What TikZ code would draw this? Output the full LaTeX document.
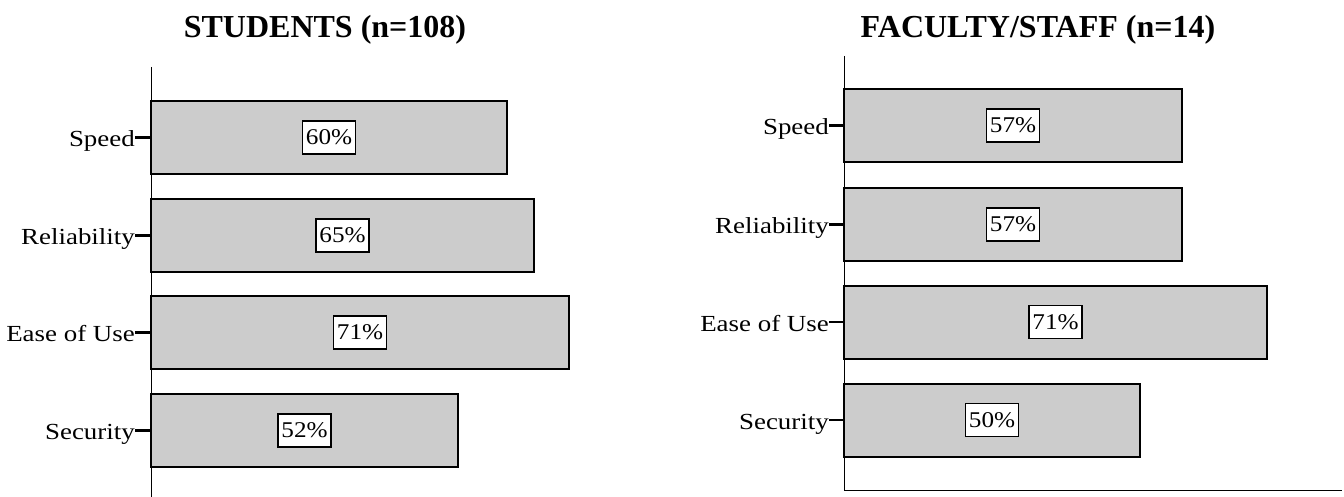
\documentclass[tikz,border=0pt]{standalone}
\usepackage{fontspec}
\setmainfont{Liberation Serif}
\newfontfamily\lblfont[FakeStretch=1.17]{Liberation Serif}
\newfontfamily\pctfont[FakeStretch=1.12]{Liberation Serif}
\definecolor{bargray}{HTML}{CCCCCC}
\tikzset{
  bar/.style={draw=black, line width=2pt, fill=bargray, inner sep=0pt, outer sep=0pt, minimum height=73pt, anchor=west},
  axisline/.style={line width=1pt},
  tickmark/.style={line width=2.5pt},
  pct/.style={draw=black, line width=1.5pt, fill=white, font=\pctfont\fontsize{22.5}{24}\selectfont, inner xsep=3.5pt, inner ysep=0pt, minimum height=33pt},
  cat/.style={anchor=base east, inner sep=0pt, font=\lblfont\fontsize{23}{25}\selectfont},
  charttitle/.style={anchor=base, inner sep=0pt, font=\bfseries\fontsize{32}{36}\selectfont}
}
\begin{document}
\begin{tikzpicture}[x=1pt,y=-1pt]
\useasboundingbox (0,0) rectangle (1344,497);
% titles
\node[charttitle] (tL) at (325,38) {STUDENTS (n=108)};
\node[charttitle] (tR) at (1038,38) {FACULTY/STAFF (n=14)};
% axes
\draw[axisline] (151,67) -- (151,497);
\draw[axisline] (844,56) -- (844,490) -- (1342,490);
% students
\foreach \n/\y/\w/\lab/\p in {1/137.5/356/Speed/60, 2/235.5/383/Reliability/65, 3/332.5/418/Ease of Use/71, 4/430.5/307/Security/52}{
  \node[bar, minimum width=\w pt] (L\n) at (151,\y) {};
  \node[pct] (Lp\n) at (L\n.center) {\p\%};
  \node[cat] (Lc\n) at (135,\y+9) {\lab};
  \draw[tickmark] (L\n.west) -- (L\n.west -| Lc\n.east);
}
% faculty/staff
\foreach \n/\y/\w/\lab/\p in {1/125.5/338/Speed/57, 2/224.5/338/Reliability/57, 3/322/423/Ease of Use/71, 4/420/296/Security/50}{
  \node[bar, minimum width=\w pt] (R\n) at (844,\y) {};
  \node[pct] (Rp\n) at (R\n.center) {\p\%};
  \node[cat] (Rc\n) at (829,\y+9) {\lab};
  \draw[tickmark] (R\n.west) -- (R\n.west -| Rc\n.east);
}
\end{tikzpicture}
\end{document}
